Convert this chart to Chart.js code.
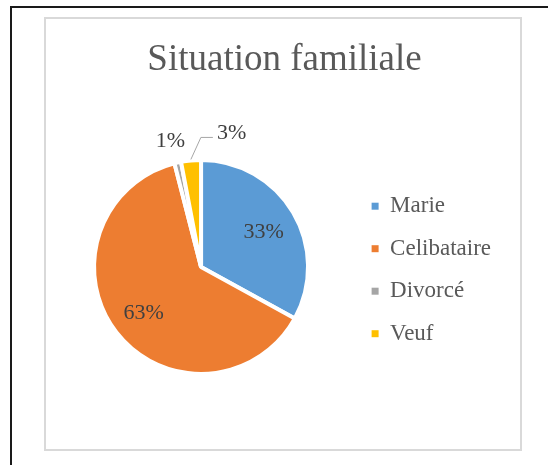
<!DOCTYPE html>
<html>
<head>
<meta charset="utf-8">
<script src="https://cdn.jsdelivr.net/npm/chart.js@4"></script>
<style>
  body { margin: 0; background: #fff; overflow: hidden; }
  #page { position: absolute; left: 10px; top: 6px; width: 600px; height: 500px;
          border-left: 2px solid #1a1a1a; border-top: 2px solid #1a1a1a; }
  #frame { position: absolute; left: 44px; top: 17px; width: 478px; height: 434px;
           box-sizing: border-box; border: 2px solid #d9d9d9; background: #fff; }
  #diagram { position: absolute; left: 4px; top: 0; }
</style>
</head>
<body>
<div id="page"></div>
<div id="frame"><canvas id="diagram" width="469" height="430"></canvas></div>
<script>
const categories = ['Marie', 'Celibataire', 'Divorcé', 'Veuf'];
const percentages = [33, 63, 1, 3];
const sliceColors = ['#5b9bd5', '#ed7d31', '#a5a5a5', '#ffc000'];
// how each data label is placed: in the slice, just outside, or outside with a leader line
const labelPlacement = ['inside', 'inside', 'outside', 'leader'];

const serif = "'Liberation Serif', 'Times New Roman', serif";

// empty box right of the legend, so the pie sits left of the title's centre
const rightGap = {
    id: 'rightGap',
    beforeInit(chart) {
        Chart.layouts.addBox(chart, {
            position: 'right',
            weight: 1500,
            fullSize: false,
            options: { display: false },
            width: 0, height: 0, left: 0, top: 0, right: 0, bottom: 0,
            isHorizontal() { return false; },
            update(maxWidth, maxHeight) { this.width = 18; this.height = maxHeight; },
            draw() {}
        });
    }
};

const pieLabels = {
    id: 'pieLabels',
    afterDatasetsDraw(chart) {
        const ctx = chart.ctx;
        const meta = chart.getDatasetMeta(0);
        ctx.save();
        ctx.font = '22px ' + serif;
        ctx.fillStyle = '#404040';
        ctx.textBaseline = 'middle';
        meta.data.forEach((arc, i) => {
            const p = arc.getProps(['x', 'y', 'startAngle', 'endAngle', 'outerRadius'], true);
            const mid = (p.startAngle + p.endAngle) / 2;
            const text = percentages[i] + '%';
            const place = labelPlacement[i];
            if (place === 'inside') {
                const r = p.outerRadius * 0.68;
                ctx.textAlign = 'center';
                ctx.fillText(text, p.x + Math.cos(mid) * r, p.y + Math.sin(mid) * r + 2);
            } else if (place === 'outside') {
                const r = p.outerRadius + 24;
                ctx.textAlign = 'center';
                ctx.fillText(text, p.x + Math.cos(mid) * r - 2, p.y + Math.sin(mid) * r + 2);
            } else {
                const sx = p.x + Math.cos(mid) * (p.outerRadius + 1);
                const sy = p.y + Math.sin(mid) * (p.outerRadius + 1);
                const ex = sx + 10, ey = sy - 22;
                ctx.strokeStyle = '#a6a6a6';
                ctx.lineWidth = 1;
                ctx.beginPath();
                ctx.moveTo(sx, sy);
                ctx.lineTo(ex, ey);
                ctx.lineTo(ex + 12, ey);
                ctx.stroke();
                ctx.textAlign = 'left';
                ctx.fillText(text, ex + 16, ey - 4);
            }
        });
        ctx.restore();
    }
};

new Chart(document.getElementById('diagram').getContext('2d'), {
    type: 'pie',
    data: {
        labels: categories,
        datasets: [{
            data: percentages,
            backgroundColor: sliceColors,
            borderColor: '#ffffff',
            borderWidth: 4
        }]
    },
    options: {
        responsive: false,
        animation: false,
        devicePixelRatio: 1,
        radius: 107,
        events: [],
        layout: { padding: { left: 0, right: 0, top: 0, bottom: 7 } },
        plugins: {
            title: {
                display: true,
                text: 'Situation familiale',
                color: '#595959',
                font: { family: serif, size: 37, weight: 'normal' },
                padding: { top: 19.5, bottom: 9 }
            },
            legend: {
                position: 'right',
                fullSize: false,
                title: { display: true, text: '', font: { size: 5 }, padding: 0 },
                labels: {
                    boxWidth: 7,
                    boxHeight: 7,
                    padding: 19.5,
                    color: '#595959',
                    font: { family: serif, size: 23 },
                    generateLabels: () => categories.map((c, i) => ({
                        text: c,
                        fillStyle: sliceColors[i],
                        strokeStyle: sliceColors[i],
                        lineWidth: 0,
                        fontColor: '#595959',
                        hidden: false,
                        index: i
                    }))
                }
            },
            tooltip: { enabled: false }
        }
    },
    plugins: [rightGap, pieLabels]
});
</script>
</body>
</html>
